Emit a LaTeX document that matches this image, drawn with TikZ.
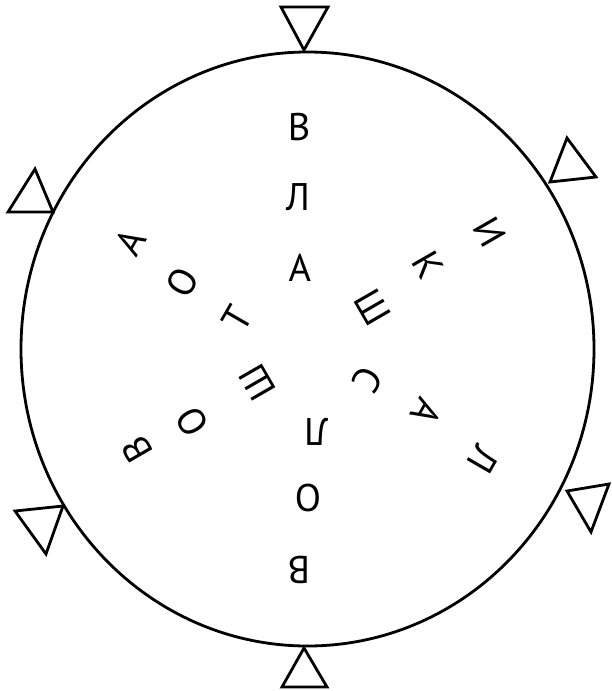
\documentclass[tikz,border=0pt]{standalone}
\usepackage{fontspec}
\newfontfamily\lettfont{PT Sans}
\begin{document}
\begin{tikzpicture}[x=1pt,y=-1pt,
  ring/.style={line width=2.8pt},
  tri/.style={line width=2.8pt, line join=miter},
  letter/.style={font=\lettfont\fontsize{38.5}{40}\selectfont, inner sep=0pt,
    text height=27pt, text depth=0pt, anchor=center}]
\useasboundingbox (0,0) rectangle (611,691);
% outer ring
\draw[ring] (307.5,349) ellipse [x radius=286.5, y radius=297];
% triangles
\draw[tri] (281,7) -- (328,7) -- (304,50) -- cycle;
\draw[tri] (567,138) -- (596,177) -- (550,182) -- cycle;
\draw[tri] (35,169) -- (8,212) -- (53,212) -- cycle;
\draw[tri] (15,511) -- (63,506) -- (46,554) -- cycle;
\draw[tri] (567,491) -- (609,484) -- (591,532) -- cycle;
\draw[tri] (282,687) -- (327,687) -- (304,648) -- cycle;
% vertical spoke
\node[letter] (t1) at (299,127) {В};
\node[letter] (t2) at (298,197) {Л};
\node[letter] (t3) at (300,268) {А};
\node[letter,rotate=180] (b1) at (316,432) {Л};
\node[letter,rotate=180] (b2) at (308,498) {О};
\node[letter,rotate=180] (b3) at (299,570) {В};
% upper-left / lower-right spoke
\node[letter,rotate=60] (ul1) at (130,242) {А};
\node[letter,rotate=60] (ul2) at (182,282) {О};
\node[letter,rotate=60] (ul3) at (237,318) {Т};
\node[letter,rotate=-120] (lr1) at (368,380) {С};
\node[letter,rotate=-120] (lr2) at (427,412) {А};
\node[letter,rotate=-120] (lr3) at (483,460) {Л};
% upper-right / lower-left spoke
\node[letter,rotate=-60] (ur1) at (490,232) {И};
\node[letter,rotate=-60] (ur2) at (428,265) {К};
\node[letter,rotate=-60] (ur3) at (373,307) {Ш};
\node[letter,rotate=120] (ll1) at (257,383) {Ш};
\node[letter,rotate=120] (ll2) at (192,422) {О};
\node[letter,rotate=120] (ll3) at (137,450) {В};
\end{tikzpicture}
\end{document}
